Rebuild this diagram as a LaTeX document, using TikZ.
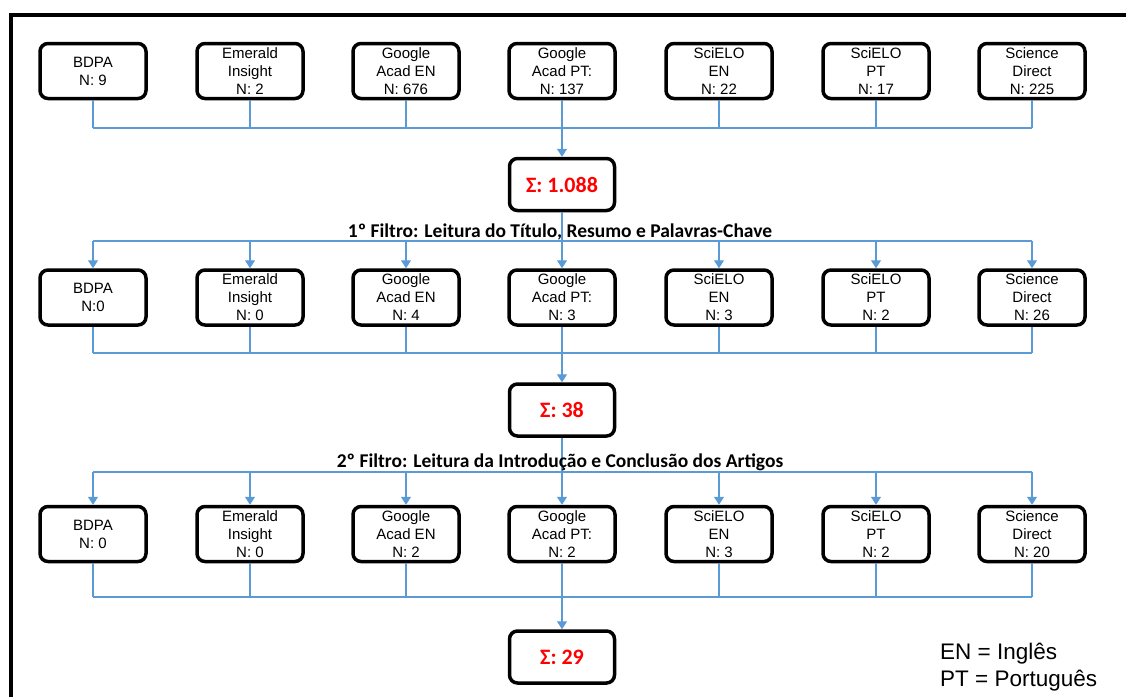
\documentclass[tikz,border=0pt]{standalone}
\usepackage{fontspec}
\setmainfont{Liberation Sans}
\newfontfamily\calib{Carlito}
\usetikzlibrary{arrows.meta}
\definecolor{lineblue}{RGB}{91,155,213}
\definecolor{sumred}{RGB}{255,0,0}
\tikzset{
  srcbox/.style={draw=black, line width=3.5pt, rounded corners=8pt, minimum width=106pt, minimum height=55pt, align=center, inner sep=0pt, font=\fontsize{15}{18}\selectfont},
  sumbox/.style={draw=black, line width=3.5pt, rounded corners=8pt, minimum width=105pt, minimum height=52pt, inner sep=0pt, text=sumred, font=\calib\bfseries\fontsize{22}{24}\selectfont},
  conn/.style={draw=lineblue, line width=1.4pt},
  arr/.style={conn, -{Triangle[width=10pt,length=8pt]}},
  filt/.style={font=\calib\bfseries\fontsize{19.5}{22}\selectfont, inner sep=0pt, anchor=base},
  legend/.style={font=\fontsize{22.5}{27}\selectfont, align=left, inner sep=0pt, anchor=west}
}
\begin{document}
\begin{tikzpicture}[x=1pt,y=-1pt]
\useasboundingbox (0,0) rectangle (1126,697);
% frame
\draw[line width=4pt] (10.5,697) -- (10.5,15) -- (1126,15);
% row 1
\node[srcbox] (a1) at (93,71) {BDPA\\N: 9};
\node[srcbox] (a2) at (250,71) {Emerald\\Insight\\N: 2};
\node[srcbox] (a3) at (406,71) {Google\\Acad EN\\N: 676};
\node[srcbox] (a4) at (562,71) {Google\\Acad PT:\\N: 137};
\node[srcbox] (a5) at (719,71) {SciELO\\EN\\N: 22};
\node[srcbox] (a6) at (876,71) {SciELO\\PT\\N: 17};
\node[srcbox] (a7) at (1032,71) {Science\\Direct\\N: 225};
\node[sumbox] (s1) at (562,184.5) {Σ: 1.088};
% row 2
\node[srcbox] (b1) at (93,297.5) {BDPA\\N:0};
\node[srcbox] (b2) at (250,297.5) {Emerald\\Insight\\N: 0};
\node[srcbox] (b3) at (406,297.5) {Google\\Acad EN\\N: 4};
\node[srcbox] (b4) at (562,297.5) {Google\\Acad PT:\\N: 3};
\node[srcbox] (b5) at (719,297.5) {SciELO\\EN\\N: 3};
\node[srcbox] (b6) at (876,297.5) {SciELO\\PT\\N: 2};
\node[srcbox] (b7) at (1032,297.5) {Science\\Direct\\N: 26};
\node[sumbox] (s2) at (562,410) {Σ: 38};
% row 3
\node[srcbox] (c1) at (93,534) {BDPA\\N: 0};
\node[srcbox] (c2) at (250,534) {Emerald\\Insight\\N: 0};
\node[srcbox] (c3) at (406,534) {Google\\Acad EN\\N: 2};
\node[srcbox] (c4) at (562,534) {Google\\Acad PT:\\N: 2};
\node[srcbox] (c5) at (719,534) {SciELO\\EN\\N: 3};
\node[srcbox] (c6) at (876,534) {SciELO\\PT\\N: 2};
\node[srcbox] (c7) at (1032,534) {Science\\Direct\\N: 20};
\node[sumbox] (s3) at (562,657) {Σ: 29};
% junction coordinates
\coordinate (j1) at (562,128);
\coordinate (k1) at (562,241);
\coordinate (j2) at (562,353);
\coordinate (k2) at (562,472);
\coordinate (j3) at (562,597);
% row 1 -> sum 1
\foreach \i in {1,...,7} {\draw[conn] (a\i.south) -- (a\i.south |- j1);}
\draw[conn] (a1.south |- j1) -- (a7.south |- j1);
\draw[arr] (j1) -- (s1.north);
% sum 1 -> row 2
\draw[conn] (s1.south) -- (s1.south |- k1);
\draw[conn] (b1.north |- k1) -- (b7.north |- k1);
\foreach \i in {1,...,7} {\draw[arr] (b\i.north |- k1) -- (b\i.north);}
\node[filt] (f1) at (560,237) {1º Filtro: Leitura do Título, Resumo e Palavras-Chave};
% row 2 -> sum 2
\foreach \i in {1,...,7} {\draw[conn] (b\i.south) -- (b\i.south |- j2);}
\draw[conn] (b1.south |- j2) -- (b7.south |- j2);
\draw[arr] (j2) -- (s2.north);
% sum 2 -> row 3
\draw[conn] (s2.south) -- (s2.south |- k2);
\draw[conn] (c1.north |- k2) -- (c7.north |- k2);
\foreach \i in {1,...,7} {\draw[arr] (c\i.north |- k2) -- (c\i.north);}
\node[filt] (f2) at (560,467) {2º Filtro: Leitura da Introdução e Conclusão dos Artigos};
% row 3 -> sum 3
\foreach \i in {1,...,7} {\draw[conn] (c\i.south) -- (c\i.south |- j3);}
\draw[conn] (c1.south |- j3) -- (c7.south |- j3);
\draw[arr] (j3) -- (s3.north);
% legend
\node[legend] (lg) at (940,667) {EN = Inglês\\PT = Português};
\end{tikzpicture}
\end{document}
